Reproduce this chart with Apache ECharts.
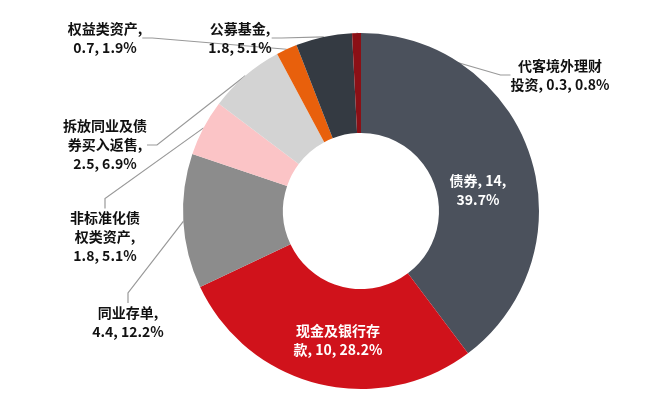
<!DOCTYPE html>
<html><head><meta charset="utf-8">
<script src="https://cdn.jsdelivr.net/npm/echarts@6/dist/echarts.min.js"></script>
<style>html,body{margin:0;background:#fff}#c{width:656px;height:401px}</style>
</head><body><div id="c"></div>
<script>
// 资产类别（顺时针，自12点起）
var names = ['债券', '现金及银行存款', '同业存单', '非标准化债权类资产', '拆放同业及债券买入返售', '权益类资产', '公募基金', '代客境外理财投资']
var amounts = [14, 10, 4.4, 1.8, 2.5, 0.7, 1.8, 0.3]
var shares = [39.7, 28.2, 12.2, 5.1, 6.9, 1.9, 5.1, 0.8]
var labelTexts = ['债券, 14,\n39.7%', '现金及银行存\n款, 10, 28.2%', '同业存单,\n4.4, 12.2%', '非标准化债\n权类资产,\n1.8, 5.1%',
  '拆放同业及债\n券买入返售,\n2.5, 6.9%', '权益类资产,\n0.7, 1.9%', '公募基金,\n1.8, 5.1%', '代客境外理财\n投资, 0.3, 0.8%']
var colors = ['#4b515c', '#d0121b', '#8c8c8c', '#fbc4c6', '#d3d3d3', '#e8600c', '#343a42', '#8b1016']
// 标签位置
var labelPos = [[478, 190], [338, 340], [128, 322], [105, 237], [105, 145], [105, 38], [240, 38], [560, 75]]

var chart = echarts.init(document.getElementById('c'))
var data = names.map(function (n, i) {
  var inside = i < 2
  return {
    name: n, value: shares[i],
    itemStyle: { color: colors[i] },
    label: { formatter: labelTexts[i], color: inside ? '#fff' : '#111' },
    labelLine: { show: !inside }
  }
})
chart.setOption({
  animation: false,
  series: [{
    type: 'pie',
    center: [361, 211],
    radius: [78, 178],
    startAngle: 90,
    clockwise: true,
    data: data,
    label: { fontFamily: 'Noto Sans CJK SC', fontWeight: 'bold', fontSize: 14, lineHeight: 19, align: 'center' },
    labelLine: { lineStyle: { color: '#999', width: 1.2 }, length: 10, length2: 10 },
    labelLayout: function (p) {
      var pos = labelPos[p.dataIndex]
      return { x: pos[0], y: pos[1], align: 'center', verticalAlign: 'middle' }
    }
  }]
})
</script></body></html>
